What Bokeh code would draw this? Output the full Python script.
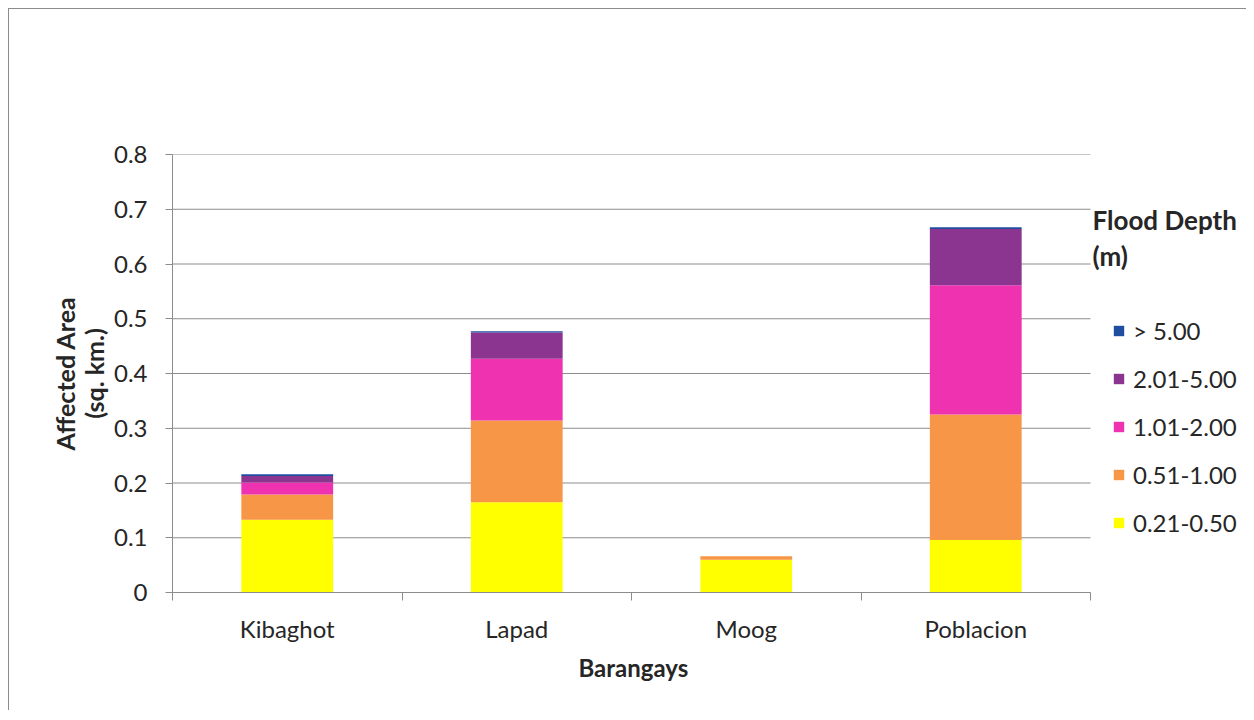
from bokeh.plotting import figure
from bokeh.models import (ColumnDataSource, FixedTicker, NumeralTickFormatter, Legend,
                          LegendItem, Label, Range1d, Title)
from bokeh.embed import file_html
from bokeh.resources import INLINE

barangays = ["Kibaghot", "Lapad", "Moog", "Poblacion"]
depth_classes = ["0.21-0.50", "0.51-1.00", "1.01-2.00", "2.01-5.00", "> 5.00"]
d_021_050 = [0.133, 0.165, 0.060, 0.096]
d_051_100 = [0.046, 0.149, 0.006, 0.229]
d_101_200 = [0.022, 0.113, 0.000, 0.236]
d_201_500 = [0.012, 0.048, 0.000, 0.103]
d_gt_500 = [0.003, 0.002, 0.000, 0.003]
colors = ["#FFFF00", "#F79646", "#EE32B0", "#8C3590", "#1F4EA0"]
y_ticks = [0, 0.1, 0.2, 0.3, 0.4, 0.5, 0.6, 0.7, 0.8]

FONT = "Lato"
TXT = "#262626"
GRID = "#8c8c8c"

n = len(barangays)
PLOT_W = 918          # width of the bar area in px
FRAME_W = 1074        # frame extended to the right to hold the legend
x_end = n * FRAME_W / PLOT_W

x_pos = [i + 0.5 for i in range(n)]
keys = ["d1", "d2", "d3", "d4", "d5"]
source = ColumnDataSource(dict(x=x_pos, d1=d_021_050, d2=d_051_100, d3=d_101_200,
                               d4=d_201_500, d5=d_gt_500))

p = figure(frame_width=FRAME_W, frame_height=438, output_backend="svg", toolbar_location=None,
           x_range=Range1d(0, x_end), y_range=Range1d(0, 0.8),
           min_border_left=172, min_border_right=0, min_border_top=154, min_border_bottom=118)
p.outline_line_color = None
p.border_fill_color = None
p.background_fill_color = "white"
p.styles = {
    "background": ("linear-gradient(#8c8c8c,#8c8c8c) 8px 8px / 1px 100% no-repeat, "
                   "linear-gradient(#8c8c8c,#8c8c8c) 8px 8px / 100% 1px no-repeat, white"),
}

# horizontal gridlines across the bar area only
p.segment(x0=[0] * len(y_ticks), x1=[n] * len(y_ticks), y0=y_ticks, y1=y_ticks,
          line_color=GRID, line_width=1, level="underlay")

renderers = p.vbar_stack(keys, x="x", width=0.4, color=colors, source=source, line_color=None)

# x axis
xa = p.xaxis[0]
xa.bounds = (0, n)
xa.ticker = FixedTicker(ticks=x_pos, minor_ticks=list(range(n + 1)))
xa.major_label_overrides = {x: b for x, b in zip(x_pos, barangays)}
xa.major_tick_out = 0
xa.major_tick_in = 0
xa.minor_tick_out = 8
xa.minor_tick_in = 0
xa.minor_tick_line_color = GRID
xa.axis_line_color = GRID
xa.major_label_text_font = FONT
xa.major_label_text_font_size = "24px"
xa.major_label_text_color = TXT
xa.major_label_standoff = 13

p.add_layout(Title(text="Barangays", align="left", offset=406, text_font=FONT,
                   text_font_style="bold", text_font_size="24px", text_color=TXT,
                   standoff=10), "below")

# y axis
ya = p.yaxis[0]
ya.ticker = FixedTicker(ticks=y_ticks)
ya.formatter = NumeralTickFormatter(format="0.[0]")
ya.major_tick_out = 7
ya.major_tick_in = 0
ya.minor_tick_out = 0
ya.minor_tick_in = 0
ya.major_tick_line_color = GRID
ya.axis_line_color = GRID
ya.major_label_text_font = FONT
ya.major_label_text_font_size = "24px"
ya.major_label_text_color = TXT
ya.major_label_standoff = 18
ya.axis_label = "Affected Area\n(sq. km.)"
ya.axis_label_text_font = FONT
ya.axis_label_text_font_style = "bold"
ya.axis_label_text_font_size = "25px"
ya.axis_label_text_line_height = 0.97
ya.axis_label_text_color = TXT
ya.axis_label_standoff = 2

p.xgrid.grid_line_color = None
p.ygrid.grid_line_color = None

items = [LegendItem(label=lab, renderers=[r]) for lab, r in zip(depth_classes, renderers)][::-1]
legend = Legend(items=items, location=(940, 55), orientation="vertical")
legend.margin = 0
legend.padding = 0
legend.border_line_alpha = 0
legend.background_fill_alpha = 0
legend.glyph_width = 13
legend.glyph_height = 13
legend.label_height = 30
legend.spacing = 18
legend.label_standoff = 8
legend.label_text_font = FONT
legend.label_text_font_size = "24px"
legend.label_text_color = TXT
p.add_layout(legend)

for txt, ys in [("Flood Depth", 592 - 219), ("(m)", 592 - 255)]:
    p.add_layout(Label(x=1092 - 172, y=ys, x_units="screen", y_units="screen", text=txt,
                       text_font=FONT, text_font_style="bold", text_font_size="26px",
                       text_color=TXT, text_baseline="middle", text_align="left"))

open("out.html", "w").write(file_html(p, INLINE))
